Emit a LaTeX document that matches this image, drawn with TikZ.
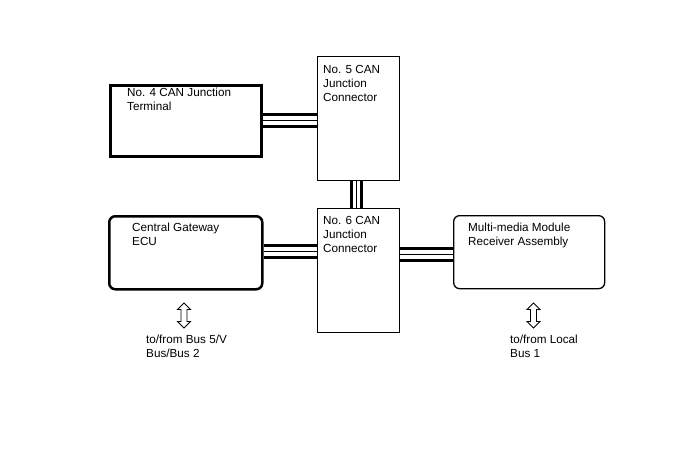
\documentclass[tikz,border=0pt]{standalone}
\usepackage{fontspec}
\setmainfont{Liberation Sans}
\tikzset{
  lbl/.style={anchor=north west, inner sep=0pt, align=left, font=\fontsize{11.7}{14}\selectfont},
  thickbox/.style={draw, line width=3pt, inner sep=0pt, anchor=north west},
  thinbox/.style={draw, line width=1pt, inner sep=0pt, anchor=north west},
  ecubox/.style={draw, line width=2.5pt, rounded corners=6pt, inner sep=0pt, anchor=north west},
  mmbox/.style={draw, line width=1.3pt, rounded corners=6pt, inner sep=0pt, anchor=north west},
  busthick/.style={line width=3pt},
  busthin/.style={line width=1pt},
  dblarrow/.pic={
    \draw[line width=0.9pt, fill=white, line join=miter]
      (0,-12.5) -- (6.5,-6) -- (3,-6) -- (3,6) -- (6.5,6) -- (0,12.5)
      -- (-6.5,6) -- (-3,6) -- (-3,-6) -- (-6.5,-6) -- cycle;
  }
}
% #1 = from node (east side), #2 = to node (west side), #3 = node giving the level, #4 = shift
\newcommand{\hbus}[4]{%
  \draw[busthick] ([yshift=#4+6pt]#1.east |- #3.center) -- ([yshift=#4+6pt]#2.west |- #3.center);
  \draw[busthin]  ([yshift=#4]#1.east |- #3.center) -- ([yshift=#4]#2.west |- #3.center);
  \draw[busthick] ([yshift=#4-6pt]#1.east |- #3.center) -- ([yshift=#4-6pt]#2.west |- #3.center);
}
\begin{document}
\begin{tikzpicture}[x=1pt, y=-1pt]
\path[use as bounding box] (0,0) rectangle (688,463);

\node[thickbox, minimum width=151.5pt, minimum height=71.5pt] (n4) at (108.5,83.5) {};
\node[thinbox, minimum width=82pt, minimum height=124pt] (n5) at (316.5,56) {};
\node[thinbox, minimum width=82pt, minimum height=124pt] (n6) at (316.5,208) {};
\node[ecubox, minimum width=153pt, minimum height=73pt] (cg) at (108,215) {};
\node[mmbox, minimum width=151pt, minimum height=73pt] (mm) at (453,215) {};

\node[lbl] (t4) at (127,88) {No. 4 CAN Junction\\Terminal};
\node[lbl] (t5) at (323,65) {No. 5 CAN\\Junction\\Connector};
\node[lbl] (t6) at (323,216) {No. 6 CAN\\Junction\\Connector};
\node[lbl] (tcg) at (132,223) {Central Gateway\\ECU};
\node[lbl] (tmm) at (468,223) {Multi-media Module\\Receiver Assembly};
\node[lbl] (tb1) at (146,335) {to/from Bus 5/V\\Bus/Bus 2};
\node[lbl] (tb2) at (510,335) {to/from Local\\Bus 1};

\hbus{n4}{n5}{n4}{0pt}
\hbus{cg}{n6}{cg}{1.5pt}
\hbus{n6}{mm}{mm}{-2pt}

\draw[busthick] ([xshift=-6.5pt]n5.south) -- ([xshift=-6.5pt]n6.north);
\draw[busthin]  ([xshift=-1.5pt]n5.south) -- ([xshift=-1.5pt]n6.north);
\draw[busthick] ([xshift=3.5pt]n5.south) -- ([xshift=3.5pt]n6.north);

\pic (a1) at (184,315.5) {dblarrow};
\pic (a2) at (533.5,315.5) {dblarrow};
\end{tikzpicture}
\end{document}
